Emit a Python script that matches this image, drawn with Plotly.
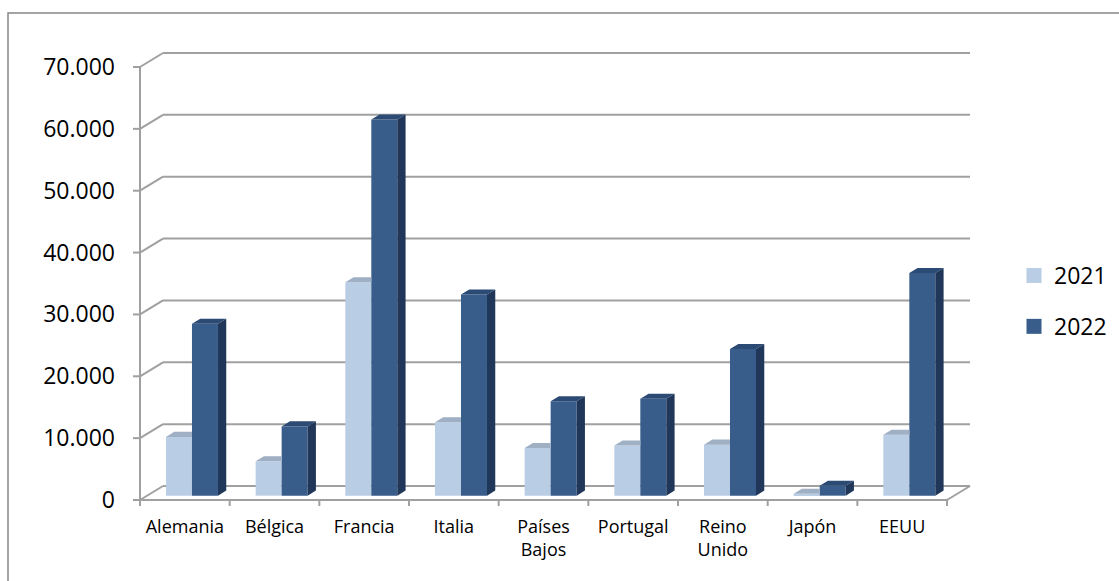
import plotly.graph_objects as go

# Exportaciones por país (unidades), años 2021 y 2022
paises = ["Alemania", "Bélgica", "Francia", "Italia", "Países<br>Bajos",
          "Portugal", "Reino<br>Unido", "Japón", "EEUU"]
valores_2021 = [9500, 5550, 34500, 11850, 7700, 8100, 8250, 300, 9850]
valores_2022 = [27800, 11200, 60800, 32500, 15250, 15650, 23700, 1600, 36000]
ticks_y = [0, 10000, 20000, 30000, 40000, 50000, 60000, 70000]
anios = ["2021", "2022"]

# ---- layout geometry (pixels) ----
W, H = 1119, 581
PLOT_L, PLOT_R, PLOT_T, PLOT_B = 125, 985, 40, 512
AXIS_X_PX, AXIS_Y_PX = 140, 500          # front corner of the box
PX_CAT = 89.67                            # pixels per category
PX_VAL = 433 / 70000                      # pixels per unit of value

# oblique depth of the 3D box, expressed in data units
WALL_DX = 23 / PX_CAT
WALL_DY = 14 / PX_VAL
BAR_DEPTH0 = 0.31      # front face of the bars, as a fraction of the depth
BAR_DEPTH = 0.36       # thickness of the bars, as a fraction of the depth
BAR_W = 26 / PX_CAT

x_lo = -0.5 - (AXIS_X_PX - PLOT_L) / PX_CAT
x_hi = -0.5 + (PLOT_R - AXIS_X_PX) / PX_CAT
y_lo = -(PLOT_B - AXIS_Y_PX) / PX_VAL
y_hi = (AXIS_Y_PX - PLOT_T) / PX_VAL

n = len(paises)
cats = list(range(n))
x_first, x_last = -0.5, n - 0.5
y_top = ticks_y[-1]

colores = {
    "2021": dict(front="#b9cde5", top="#9fafc4", side="#8c9fb8"),
    "2022": dict(front="#385d8a", top="#2b4a74", side="#203759"),
}

fig = go.Figure()

base0 = BAR_DEPTH0 * WALL_DY
shift0 = BAR_DEPTH0 * WALL_DX
ddx = BAR_DEPTH * WALL_DX
ddy = BAR_DEPTH * WALL_DY

series = [("2021", valores_2021, -BAR_W / 2), ("2022", valores_2022, BAR_W / 2)]

# front faces
for anio, vals, off in series:
    fig.add_trace(go.Bar(
        x=[c + shift0 + off for c in cats], y=vals, base=[base0] * n,
        width=BAR_W, marker=dict(color=colores[anio]["front"], line=dict(width=0)),
        showlegend=False, hoverinfo="skip"))

# top and side faces
for anio, vals, off in series:
    tx, ty, sx, sy = [], [], [], []
    for c, v in zip(cats, vals):
        xl = c + shift0 + off - BAR_W / 2
        xr = xl + BAR_W
        top = base0 + v
        if anio == "2021":
            # the part to the right is hidden behind the 2022 bar
            tx += [xl, xr, xr, xl + ddx, xl, None]
            ty += [top, top, top + ddy, top + ddy, top, None]
        else:
            tx += [xl, xr, xr + ddx, xl + ddx, xl, None]
            ty += [top, top, top + ddy, top + ddy, top, None]
            sx += [xr, xr + ddx, xr + ddx, xr, xr, None]
            sy += [base0, base0 + ddy, top + ddy, top, base0, None]
    fig.add_trace(go.Scatter(x=tx, y=ty, mode="lines", fill="toself",
                             fillcolor=colores[anio]["top"], line=dict(width=0),
                             showlegend=False, hoverinfo="skip"))
    if sx:
        fig.add_trace(go.Scatter(x=sx, y=sy, mode="lines", fill="toself",
                                 fillcolor=colores[anio]["side"], line=dict(width=0),
                                 showlegend=False, hoverinfo="skip"))

# legend entries
for i, anio in enumerate(anios):
    fig.add_trace(go.Scatter(
        x=[None], y=[None], mode="markers", name=anio, legendgroup=anio,
        marker=dict(symbol="square", size=15, color=colores[anio]["front"])))

# box: back wall gridlines, left wall diagonals, floor and front axes
grid = dict(color="#a0a0a0", width=2)
shapes = []
for v in ticks_y:
    shapes.append(dict(type="line", layer="below", xref="x", yref="y",
                       x0=x_first + WALL_DX, x1=x_last + WALL_DX,
                       y0=v + WALL_DY, y1=v + WALL_DY, line=grid))
    shapes.append(dict(type="line", layer="below", xref="x", yref="y",
                       x0=x_first, x1=x_first + WALL_DX,
                       y0=v, y1=v + WALL_DY, line=grid))
    # y tick marks
    shapes.append(dict(type="line", layer="below", xref="x", yref="y",
                       x0=x_first - 7 / PX_CAT, x1=x_first, y0=v, y1=v, line=grid))
shapes.append(dict(type="line", layer="below", xref="x", yref="y",
                   x0=x_first, x1=x_last, y0=0, y1=0, line=grid))
shapes.append(dict(type="line", layer="below", xref="x", yref="y",
                   x0=x_last, x1=x_last + WALL_DX, y0=0, y1=WALL_DY, line=grid))
shapes.append(dict(type="line", layer="below", xref="x", yref="y",
                   x0=x_first, x1=x_first, y0=0, y1=y_top, line=grid))
for c in range(n + 1):
    b = c - 0.5
    shapes.append(dict(type="line", layer="below", xref="x", yref="y",
                       x0=b, x1=b, y0=0, y1=-6 / PX_VAL, line=grid))

# outer chart border (runs off the right and bottom edges of the page)
pw, ph = PLOT_R - PLOT_L, PLOT_B - PLOT_T
bx0, bx1 = (8 - PLOT_L) / pw, (W + 10 - PLOT_L) / pw
by0, by1 = (PLOT_B - (H + 10)) / ph, (PLOT_B - 13) / ph
shapes.append(dict(type="rect", xref="paper", yref="paper", layer="below",
                   x0=bx0, x1=bx1, y0=by0, y1=by1,
                   line=dict(color="#868686", width=1.5)))

fig.update_layout(
    width=W, height=H,
    margin=dict(l=PLOT_L, r=W - PLOT_R, t=PLOT_T, b=H - PLOT_B, autoexpand=False),
    paper_bgcolor="white", plot_bgcolor="white",
    barmode="overlay", separators=",.",
    font=dict(family="Open Sans", color="black"),
    shapes=shapes,
    showlegend=True,
    legend=dict(x=(1014 - PLOT_L) / pw, xanchor="left",
                y=(PLOT_B - 301) / ph, yanchor="middle",
                font=dict(size=23), tracegroupgap=18,
                itemsizing="trace", bgcolor="rgba(0,0,0,0)"),
    xaxis=dict(range=[x_lo, x_hi], showgrid=False, zeroline=False, showline=False,
               tickmode="array", tickvals=cats, ticktext=paises, ticks="",
               tickfont=dict(size=18), ticklabelstandoff=2, fixedrange=True),
    yaxis=dict(range=[y_lo, y_hi], showgrid=False, zeroline=False, showline=False,
               tickmode="array", tickvals=ticks_y, tickformat=",d", ticks="",
               tickfont=dict(size=23), ticklabelstandoff=9, fixedrange=True),
)

fig.write_html("out.html")
